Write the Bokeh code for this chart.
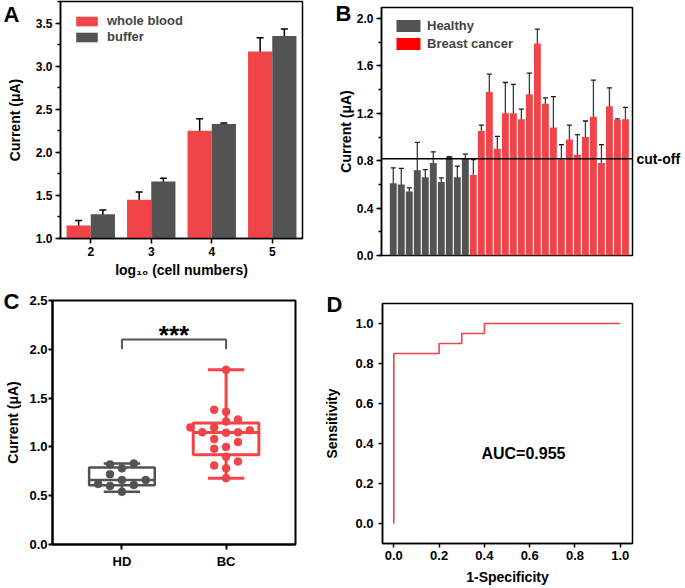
import numpy as np
from bokeh.plotting import figure
from bokeh.models import (ColumnDataSource, Whisker, TeeHead, Legend, LegendItem, Span, Label,
                          Range1d, SingleIntervalTicker, FixedTicker, PrintfTickFormatter,
                          LinearAxis)
from bokeh.layouts import column, row
from bokeh.transform import dodge
from bokeh.embed import file_html
from bokeh.resources import INLINE

FONT = "Liberation Sans"
RED = "#F04448"
PURE_RED = "#FF0000"
GRAY = "#535353"

# ---------------- Panel A data ----------------
cell_log = [2, 3, 4, 5]
whole_blood = [1.15, 1.45, 2.25, 3.17]
whole_blood_err = [0.06, 0.09, 0.14, 0.16]
buffer_vals = [1.28, 1.66, 2.33, 3.35]
buffer_err = [0.05, 0.04, 0.01, 0.08]

# ---------------- Panel B / C data ----------------
healthy = [0.61, 0.60, 0.54, 0.72, 0.66, 0.78, 0.62, 0.83, 0.66, 0.82]
healthy_err = [0.13, 0.135, 0.03, 0.235, 0.065, 0.095, 0.035, 0.005, 0.095, 0.035]
cancer = [0.68, 1.05, 1.38, 0.90, 1.20, 1.20, 1.15, 1.36, 1.79, 1.28,
          1.08, 0.81, 0.98, 0.85, 1.00, 1.17, 0.78, 1.26, 1.145, 1.15]
cancer_err = [0.13, 0.05, 0.15, 0.105, 0.26, 0.245, 0.085, 0.18, 0.12, 0.05,
              0.26, 0.125, 0.12, 0.17, 0.135, 0.31, 0.155, 0.155, 0.008, 0.10]
cutoff = 0.817
groups_c = ["HD", "BC"]
sig_text = "***"

# ---------------- Panel D data ----------------
roc_fpr = [0.0, 0.0, 0.2, 0.2, 0.3, 0.3, 0.4, 0.4, 1.0]
roc_tpr = [0.0, 0.85, 0.85, 0.90, 0.90, 0.95, 0.95, 1.0, 1.0]
auc_text = "AUC=0.955"


def base_fig(width, height, xr, yr, left, right, top, bottom, outline=1.5):
    p = figure(width=width, height=height, x_range=Range1d(*xr), y_range=Range1d(*yr),
               output_backend="svg", toolbar_location=None, title=None,
               min_border_left=left, min_border_right=right,
               min_border_top=top, min_border_bottom=bottom)
    p.frame_align = False
    p.xgrid.visible = False
    p.ygrid.visible = False
    p.outline_line_color = "black"
    p.outline_line_width = outline
    p.outline_line_alpha = 1.0
    p.background_fill_color = "white"
    p.border_fill_color = "white"
    return p


def style_axis(ax, size="12px", lw=1.5, tick_out=4, minor_out=0, standoff=4,
               label_size="14px", label_standoff=6):
    ax.axis_line_color = "black"
    ax.axis_line_width = lw
    ax.major_tick_in = 0
    ax.major_tick_out = tick_out
    ax.major_tick_line_width = lw
    ax.major_tick_line_color = "black"
    ax.minor_tick_in = 0
    ax.minor_tick_out = minor_out
    ax.minor_tick_line_width = lw
    ax.minor_tick_line_color = "black" if minor_out else None
    ax.major_label_text_font = FONT
    ax.major_label_text_font_style = "bold"
    ax.major_label_text_font_size = size
    ax.major_label_text_color = "black"
    ax.major_label_standoff = standoff
    ax.axis_label_text_font = FONT
    ax.axis_label_text_font_style = "bold"
    ax.axis_label_text_font_size = label_size
    ax.axis_label_text_color = "black"
    ax.axis_label_standoff = label_standoff


def text_axis(p, side, pos, text, size, standoff=0):
    """Axis without lines that only carries one text (panel letter / cut-off)."""
    ax = LinearAxis(ticker=FixedTicker(ticks=[pos]), major_label_overrides={pos: text},
                    axis_line_color=None, major_tick_line_color=None, minor_tick_line_color=None,
                    major_tick_in=0, major_tick_out=0, minor_tick_in=0, minor_tick_out=0,
                    major_label_standoff=standoff, major_label_text_font=FONT,
                    major_label_text_font_style="bold", major_label_text_font_size=size,
                    major_label_text_color="black")
    p.add_layout(ax, side)
    return ax


# ================= Panel A =================
pA = base_fig(323, 280, (1.5, 5.5), (1.0, 3.75), 58, 21, 1, 41)
srcA = ColumnDataSource(dict(
    x=cell_log,
    wb=whole_blood, wb_lo=[v - e for v, e in zip(whole_blood, whole_blood_err)],
    wb_hi=[v + e for v, e in zip(whole_blood, whole_blood_err)],
    bf=buffer_vals, bf_lo=[v - e for v, e in zip(buffer_vals, buffer_err)],
    bf_hi=[v + e for v, e in zip(buffer_vals, buffer_err)],
))
rA1 = pA.vbar(x=dodge("x", -0.2, range=pA.x_range), top="wb", bottom=0, width=0.4,
              source=srcA, fill_color=RED, line_color=None)
rA2 = pA.vbar(x=dodge("x", 0.2, range=pA.x_range), top="bf", bottom=0, width=0.4,
              source=srcA, fill_color=GRAY, line_color=None)
for key, off in (("wb", -0.2), ("bf", 0.2)):
    w = Whisker(source=srcA, base=dodge("x", off, range=pA.x_range),
                upper=key + "_hi", lower=key + "_lo", line_color="black", line_width=1.5,
                upper_head=TeeHead(size=7, line_color="black", line_width=1.5),
                lower_head=TeeHead(size=7, line_color="black", line_width=1.5))
    pA.add_layout(w)
legA = Legend(items=[LegendItem(label="whole blood", renderers=[rA1]),
                     LegendItem(label="buffer", renderers=[rA2])],
              location=(13, 194), glyph_width=27, glyph_height=12, label_height=12,
              spacing=1, label_standoff=7, padding=0, margin=0,
              border_line_alpha=0, background_fill_alpha=0,
              label_text_font=FONT, label_text_font_style="bold", label_text_font_size="13px")
pA.add_layout(legA)
pA.yaxis.ticker = SingleIntervalTicker(interval=0.5, num_minor_ticks=2)
pA.yaxis.formatter = PrintfTickFormatter(format="%.1f")
pA.yaxis.axis_label = "Current (μA)"
style_axis(pA.yaxis[0], size="12px", tick_out=5, minor_out=3, standoff=3, label_standoff=10)
pA.xaxis.ticker = FixedTicker(ticks=cell_log)
pA.xaxis.axis_label = "log₁₀ (cell numbers)"
style_axis(pA.xaxis[0], size="12px", tick_out=5, standoff=3, label_standoff=3)
text_axis(pA, "left", 3.595, "A", "22px", standoff=-16)

# ================= Panel B =================
pB = base_fig(362, 280, (-0.47, 30.88), (0, 2.093), 58, 53, 7, 25)
nH = len(healthy)
xs_h = list(range(1, nH + 1))
xs_c = list(range(nH + 1, nH + len(cancer) + 1))
srcH = ColumnDataSource(dict(x=xs_h, y=healthy,
                             lo=[v - e for v, e in zip(healthy, healthy_err)],
                             hi=[v + e for v, e in zip(healthy, healthy_err)]))
srcC = ColumnDataSource(dict(x=xs_c, y=cancer,
                             lo=[v - e for v, e in zip(cancer, cancer_err)],
                             hi=[v + e for v, e in zip(cancer, cancer_err)]))
rBh = pB.vbar(x="x", top="y", width=0.86, source=srcH, fill_color=GRAY, line_color=None)
pB.vbar(x="x", top="y", width=0.86, source=srcC, fill_color=RED, line_color=None)
# zero-width proxy so that the legend patch can be pure red as in the original
rBproxy = pB.vbar(x="x", top="y", width=0, source=srcC, fill_color=PURE_RED, line_color=None)
for s in (srcH, srcC):
    pB.add_layout(Whisker(source=s, base="x", upper="hi", lower="lo",
                          line_color="#1a1a1a", line_width=1.3, line_alpha=0.85,
                          upper_head=TeeHead(size=5, line_color="#1a1a1a", line_width=1.3),
                          lower_head=TeeHead(size=5, line_color="#1a1a1a", line_width=1.3)))
pB.add_layout(Span(location=cutoff, dimension="width", line_color="black", line_width=1.6))
legB = Legend(items=[LegendItem(label="Healthy", renderers=[rBh]),
                     LegendItem(label="Breast cancer", renderers=[rBproxy])],
              location=(12, 204), glyph_width=30, glyph_height=15, label_height=15,
              spacing=3, label_standoff=4, padding=0, margin=0,
              border_line_alpha=0, background_fill_alpha=0,
              label_text_font=FONT, label_text_font_style="bold", label_text_font_size="13px")
pB.add_layout(legB)
pB.yaxis.ticker = SingleIntervalTicker(interval=0.4, num_minor_ticks=2)
pB.yaxis.formatter = PrintfTickFormatter(format="%.1f")
pB.yaxis.axis_label = "Current (μA)"
style_axis(pB.yaxis[0], size="12px", tick_out=5, minor_out=3, standoff=3, label_standoff=0)
pB.xaxis.visible = False
text_axis(pB, "left", 2.053, "B", "22px", standoff=-17)
text_axis(pB, "right", cutoff, "cut-off", "14px", standoff=4)

# ================= Panel C =================
xrC = (1 / 3, 8 / 3)
yrC = (0, 2.5)
frameC_w, frameC_h = 245, 244
pC = base_fig(316, 308, xrC, yrC, 50, 21, 20, 44, outline=2)
px_x = frameC_w / (xrC[1] - xrC[0])
px_y = frameC_h / (yrC[1] - yrC[0])


def swarm(vals, diam=9.0, step=12.0):
    """Greedy beeswarm offsets (in data units) so circles do not overlap."""
    order = np.argsort(vals)
    placed = []
    offs = np.zeros(len(vals))
    cands = [0, -1, 1, -2, 2, -3, 3, -4, 4]
    for i in order:
        yv = vals[i] * px_y
        for c in cands:
            xo = c * step
            if all((xo - px) ** 2 + (yv - py) ** 2 >= diam ** 2 for px, py in placed):
                break
        placed.append((xo, yv))
        offs[i] = xo / px_x
    return offs


def box(p, xc, vals, color, lw):
    v = np.asarray(vals)
    q1, med, q3 = np.percentile(v, [25, 50, 75], method="weibull")
    lo, hi = v.min(), v.max()
    hw, cw = 0.315, 0.175
    p.quad(left=[xc - hw], right=[xc + hw], bottom=[q1], top=[q3],
           fill_color="white", fill_alpha=0, line_color=color, line_width=lw)
    p.segment(x0=[xc - hw, xc, xc, xc - cw, xc - cw], x1=[xc + hw, xc, xc, xc + cw, xc + cw],
              y0=[med, q3, q1, hi, lo], y1=[med, hi, lo, hi, lo],
              line_color=color, line_width=lw)
    offs = swarm(v)
    p.scatter(x=xc + offs, y=v, size=8, fill_color=color, line_color=color, line_width=0.5)


box(pC, 1, healthy, GRAY, 2.5)
box(pC, 2, cancer, RED, 3)
sig_level, sig_leg = 2.1, 0.1
pC.line(x=[1, 1, 2, 2], y=[sig_level - sig_leg, sig_level, sig_level, sig_level - sig_leg],
        line_color="#555555", line_width=2)
pC.add_layout(Label(x=1.5, y=2.15, text=sig_text, text_align="center", text_baseline="alphabetic",
                    text_font=FONT, text_font_style="bold", text_font_size="26px",
                    text_color="black"))
pC.yaxis.ticker = SingleIntervalTicker(interval=0.5, num_minor_ticks=0)
pC.yaxis.formatter = PrintfTickFormatter(format="%.1f")
pC.yaxis.axis_label = "Current (μA)"
style_axis(pC.yaxis[0], size="13px", lw=2, tick_out=4, standoff=1, label_standoff=5)
pC.xaxis.ticker = FixedTicker(ticks=[1, 2])
pC.xaxis.major_label_overrides = {1: groups_c[0], 2: groups_c[1]}
style_axis(pC.xaxis[0], size="13px", lw=2, tick_out=5, standoff=4)
text_axis(pC, "left", 2.49, "C", "22px", standoff=-17)

# ================= Panel D =================
pD = base_fig(369, 308, (-0.05, 1.054), (-0.1, 1.1), 66, 53, 23, 45)
pD.line(x=roc_fpr, y=roc_tpr, line_color=RED, line_width=1.6)
pD.add_layout(Label(x=0.387, y=0.35, text=auc_text, text_baseline="middle",
                    text_font=FONT, text_font_style="bold", text_font_size="16px",
                    text_color="black"))
for ax in (pD.xaxis[0], pD.yaxis[0]):
    ax.ticker = SingleIntervalTicker(interval=0.2, num_minor_ticks=0)
    ax.formatter = PrintfTickFormatter(format="%.1f")
pD.xaxis.axis_label = "1-Specificity"
pD.yaxis.axis_label = "Sensitivity"
style_axis(pD.yaxis[0], size="13px", tick_out=4, standoff=5, label_standoff=12)
style_axis(pD.xaxis[0], size="13px", tick_out=4, standoff=3, label_standoff=6)
text_axis(pD, "left", 1.095, "D", "22px", standoff=-21)

layout = column(row(pA, pB), row(pC, pD))
open("out.html", "w").write(file_html(layout, INLINE))
